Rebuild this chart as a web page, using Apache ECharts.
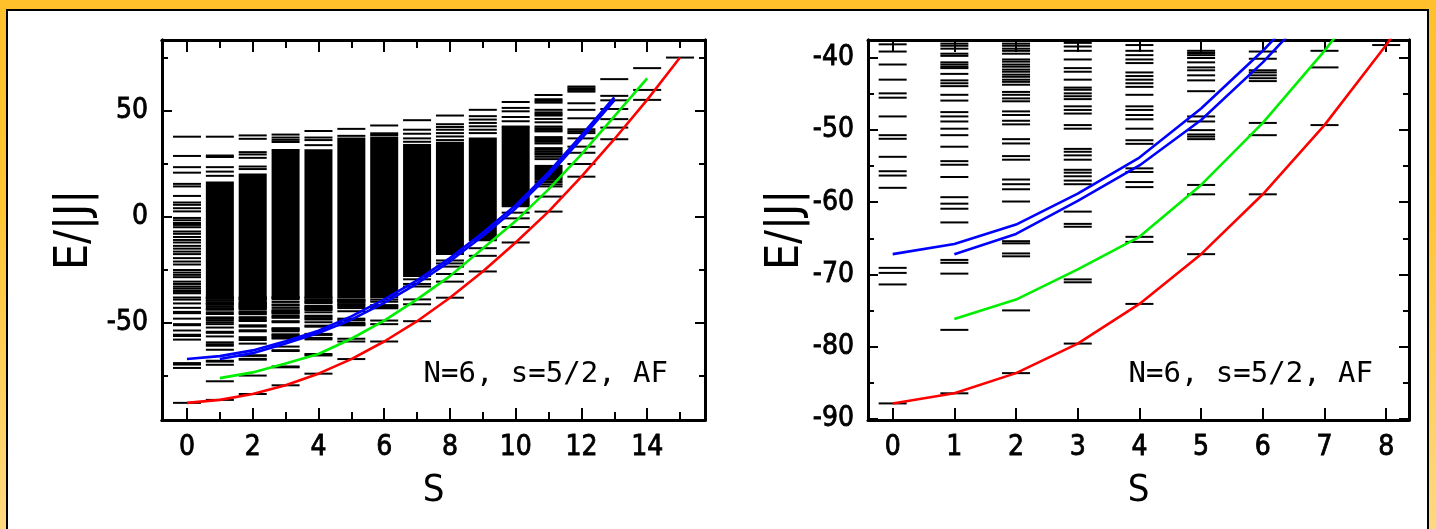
<!DOCTYPE html>
<html>
<head>
<meta charset="utf-8">
<script src="https://cdn.jsdelivr.net/npm/echarts@6/dist/echarts.min.js"></script>
<style>
html, body { margin: 0; padding: 0; width: 1436px; height: 529px; overflow: hidden; }
body { position: relative; background: linear-gradient(#ffc02c, #ffc535 40%, #ffd980); }
#frame { position: absolute; left: 6px; top: 9px; right: 7px; bottom: -6px; background: #fff; border: 2px solid #000; }
#chart { position: absolute; left: 0; top: 0; width: 1436px; height: 529px; }
</style>
</head>
<body>
<div id="frame"></div>
<div id="chart"></div>
<script>
// tick positions
var leftXMajor = [0, 2, 4, 6, 8, 10, 12, 14];
var leftXMinor = [1, 3, 5, 7, 9, 11, 13, 15];
var leftYMajor = [-50, 0, 50];
var leftYMinor = [-75, -25, 25, 75];
var rightX = [0, 1, 2, 3, 4, 5, 6, 7, 8];
var rightYMajor = [-90, -80, -70, -60, -50, -40];
var rightYMinor = [-85, -75, -65, -55, -45];

// curves, index = S
var red = [-87.9, -86.5, -83.7, -79.6, -74.1, -67.2, -58.9, -49.3, -38.2, -25.8, -12.1, 2.5, 19.0, 36.7, 55.3, 75.3];
var green = [null, -76.2, -73.5, -69.3, -64.8, -57.6, -49.0, -39.0, -28.0, -15.0, -2.0, 13.0, 29.5, 47.5, 65.5];
var blueUpper = [-67.2, -65.8, -63.1, -58.8, -53.8, -47.0, -39.0, -30.0, -19.5, -7.5, 5.5, 21.0, 38.5, 56.5];
var blueLower = [null, -67.2, -64.4, -59.8, -54.9, -48.6, -40.6, -31.5, -21.0, -9.0, 4.0, 19.5, 37.0, 55.0];

// energy levels E/|J| for each S
var levels = [
  [-87.9, -71.4, -69.8, -69.1, -58.0, -56.3, -55.7, -53.7, -51.2, -50.7, -48.1, -45.5, -44.9, -43.0, -40.9, -39.1, -38.1,
   -36.1, -35.4, -34.8, -33.8, -32.9, -31.7, -30.6, -28.5, -27.4, -26.3, -25.1, -22.5, -21.1, -19.5, -17.6, -16.4, -15.0,
   -13.7, -12.1, -10.9, -9.5, -8.0, -6.9, -4.9, -3.8, -2.9, -1.6, -0.5, 2.6, 4.1, 5.7, 6.8, 9.9, 14.4, 15.6, 20.9, 23.5, 28.8, 37.9],
  [-86.5, -77.7, -69.9, -68.4, -68.0, -62.8, -60.9, -60.2, -59.3, -56.5, -54.8, -54.3, -52.3, -50.7, -49.8, -48.8, -48.1,
   -47.5, -45.9, -45.1, -43.9, -43.5, -43.1, -42.2, -41.4, -41.2, -40.9, -40.6, -39.7, -39.4, -38.7, -38.3, -38.0,
   19.4, 21.4, 23.5, 28.3, 29.0, 37.9],
  [-83.7, -75.0, -67.5, -67.1, -65.7, -65.4, -59.9, -58.2, -57.5, -56.85, -54.1, -53.6, -51.85, -51.25, -49.2, -48.7,
   -47.9, -47.4, -46.0, -45.6, -45.1, -44.7, -43.7, -43.3, -43.0, -42.6, -42.3, -41.9, -41.6, -41.2, -40.9, -40.5,
   -40.2, -39.4, -39.0, -38.7, -38.3, -38.0, 22.6, 23.8, 27.9, 29.5, 30.6, 36.9, 38.5],
  [-79.6, -71.1, -70.7, -63.4, -63.0, -61.3, -57.5, -57.0, -56.4, -55.9, -55.5, -54.1, -53.5, -53.0, -52.6, -49.8,
   -49.3, -47.7, -47.2, -46.7, -45.7, -45.3, -44.9, -44.4, -44.1, -43.0, -41.9, -41.4, -40.2, -39.0, -38.4, -37.9,
   31.6, 35.4, 36.4, 37.5, 38.9],
  [-74.1, -65.5, -64.8, -57.9, -57.2, -55.8, -55.3, -51.9, -51.4, -49.8, -48.5, -47.9, -47.2, -46.7, -45.1, -44.0,
   -43.5, -43.0, -42.5, -42.0, -40.7, -40.2, -39.6, -39.0, -38.2, 33.9, 36.3, 37.5, 40.6],
  [-67.2, -58.9, -57.6, -51.25, -50.9, -50.6, -50.0, -48.8, -48.1, -44.6, -43.1, -42.4, -41.7, -41.3, -40.6, -40.0,
   -39.6, -39.3, -39.0, 38.3, 41.6],
  [-58.9, -50.7, -49.0, -43.2, -42.8, -42.4, -42.0, -41.7, -40.1, -39.1, 38.7, 39.5, 43.2],
  [-49.3, -41.3, -39.0, -32.9, -31.7, -29.5, 34.0, 35.5, 37.1, 39.3, 41.2, 45.7],
  [-38.2, -30.6, -27.0, -23.5, -22.0, -20.6, 36.3, 38.0, 39.6, 41.2, 42.5, 43.8, 47.9],
  [-25.8, -18.4, -14.8, 39.6, 41.2, 42.8, 44.4, 46.0, 47.6, 50.6],
  [-12.1, -4.8, -0.7, 2.0, 42.7, 45.2, 47.2, 49.9, 51.5, 54.3],
  [2.5, 9.6, 14.4, 15.4, 16.5, 27.3, 28.4, 29.4, 30.1, 30.9, 31.7, 32.5, 34.7, 35.5, 36.3, 37.0, 37.7, 40.4, 41.1,
   41.9, 42.7, 44.7, 46.3, 47.9, 48.6, 49.4, 50.6, 54.0, 54.8, 55.6, 57.6],
  [19.0, 25.0, 30.3, 33.2, 37.1, 39.6, 40.5, 41.4, 46.6, 50.6, 53.7, 59.2, 60.0, 60.8, 61.6],
  [36.7, 42.2, 46.2, 51.0, 55.1, 57.2, 65.1],
  [55.3, 60.0, 70.3],
  [75.3]
];

// quasi-continuous level ranges [S, low, high]
var bands = [
  [1, -38, 16.2], [2, -38, 20.0], [3, -38, 30.8], [4, -38, 31.5], [5, -38, 37.0], [6, -38, 37.5],
  [7, -28, 33.5], [8, -17.5, 35.0], [9, -11, 37.0], [10, 5, 42.0], [11, 17.5, 24.1]
];

var FONT = "'DejaVu Sans Condensed', 'DejaVu Sans', sans-serif";

var chart = echarts.init(document.getElementById('chart'), null, { renderer: 'canvas' });

function pairs(arr) {
  var out = [];
  arr.forEach(function (e, s) { if (e !== null) out.push([s, e]); });
  return out;
}
var levelData = [];
levels.forEach(function (list, s) {
  list.forEach(function (e) { levelData.push([s, e]); });
});

function axis(grid, min, max, pos, ticks, len, labels, name, nameGap, nameSize) {
  return {
    type: 'value', gridIndex: grid, min: min, max: max, position: pos,
    axisLine: { show: true, onZero: false, lineStyle: { color: '#000', width: 3 } },
    axisTick: { show: true, inside: true, length: len, customValues: ticks, lineStyle: { color: '#000', width: 2 } },
    axisLabel: labels ? {
      show: true, customValues: labels, margin: 14, color: '#000', fontSize: 28, fontFamily: FONT,
      textBorderColor: '#000', textBorderWidth: 0.8
    } : { show: false },
    splitLine: { show: false },
    name: name || '',
    nameLocation: 'middle',
    nameGap: nameGap || 0,
    nameTextStyle: { color: '#000', fontSize: nameSize || 38, fontFamily: FONT }
  };
}

var xAxes = [
  axis(0, -0.76, 15.76, 'bottom', leftXMajor, 12, leftXMajor, 'S', 52),
  axis(0, -0.76, 15.76, 'bottom', leftXMinor, 8),
  axis(0, -0.76, 15.76, 'top', leftXMajor, 12),
  axis(0, -0.76, 15.76, 'top', leftXMinor, 8),
  axis(1, -0.4, 8.37, 'bottom', rightX, 12, rightX, 'S', 52),
  axis(1, -0.4, 8.37, 'top', rightX, 12)
];
var yAxes = [
  axis(0, -96, 83.6, 'left', leftYMajor, 10, leftYMajor, 'E/|J|', 64, 46),
  axis(0, -96, 83.6, 'left', leftYMinor, 6),
  axis(0, -96, 83.6, 'right', leftYMajor, 10),
  axis(0, -96, 83.6, 'right', leftYMinor, 6),
  axis(1, -90.2, -37.5, 'left', rightYMajor, 10, rightYMajor, 'E/|J|', 44, 46),
  axis(1, -90.2, -37.5, 'left', rightYMinor, 6),
  axis(1, -90.2, -37.5, 'right', rightYMajor, 10),
  axis(1, -90.2, -37.5, 'right', rightYMinor, 6)
];

function levelSeries(xi, yi, data) {
  return {
    type: 'scatter', xAxisIndex: xi, yAxisIndex: yi, data: data,
    symbol: 'rect', symbolSize: [28, 2], itemStyle: { color: '#000', opacity: 1 },
    silent: true, z: 2, clip: true
  };
}
function bandSeries(xi, yi) {
  return {
    type: 'custom', xAxisIndex: xi, yAxisIndex: yi, data: bands, silent: true, z: 2, clip: true,
    encode: { x: 0, y: [1, 2] },
    renderItem: function (params, api) {
      var hi = api.coord([api.value(0), api.value(2)]);
      var lo = api.coord([api.value(0), api.value(1)]);
      return { type: 'rect', shape: { x: hi[0] - 14, y: hi[1] - 1, width: 28, height: lo[1] - hi[1] + 2 }, style: { fill: '#000' } };
    }
  };
}
function curve(xi, yi, arr, color) {
  return {
    type: 'line', xAxisIndex: xi, yAxisIndex: yi, data: pairs(arr), showSymbol: false, symbol: 'none',
    lineStyle: { color: color, width: 2.6 }, silent: true, z: 5, clip: true
  };
}

var series = [
  bandSeries(0, 0),
  levelSeries(0, 0, levelData),
  curve(0, 0, red, '#ff0000'),
  curve(0, 0, green, '#00ee00'),
  curve(0, 0, blueUpper, '#0000ff'),
  curve(0, 0, blueLower, '#0000ff'),
  levelSeries(4, 4, levelData.filter(function (p) { return p[0] <= 8 && p[1] <= -37.5; })),
  curve(4, 4, red, '#ff0000'),
  curve(4, 4, green, '#00ee00'),
  curve(4, 4, blueUpper, '#0000ff'),
  curve(4, 4, blueLower, '#0000ff')
];

var infoFont = "29px 'DejaVu Sans Mono', monospace";
var option = {
  animation: false,
  grid: [
    { left: 162, top: 40, width: 543, height: 380 },
    { left: 868, top: 40, width: 541, height: 380 }
  ],
  xAxis: xAxes,
  yAxis: yAxes,
  graphic: [
    { type: 'text', x: 668, y: 374, silent: true,
      style: { text: 'N=6, s=5/2, AF', fill: '#000', font: infoFont, textAlign: 'right', textVerticalAlign: 'middle' } },
    { type: 'text', x: 1373, y: 374, silent: true,
      style: { text: 'N=6, s=5/2, AF', fill: '#000', font: infoFont, textAlign: 'right', textVerticalAlign: 'middle' } }
  ],
  series: series
};

option && chart.setOption(option);
</script>
</body>
</html>
